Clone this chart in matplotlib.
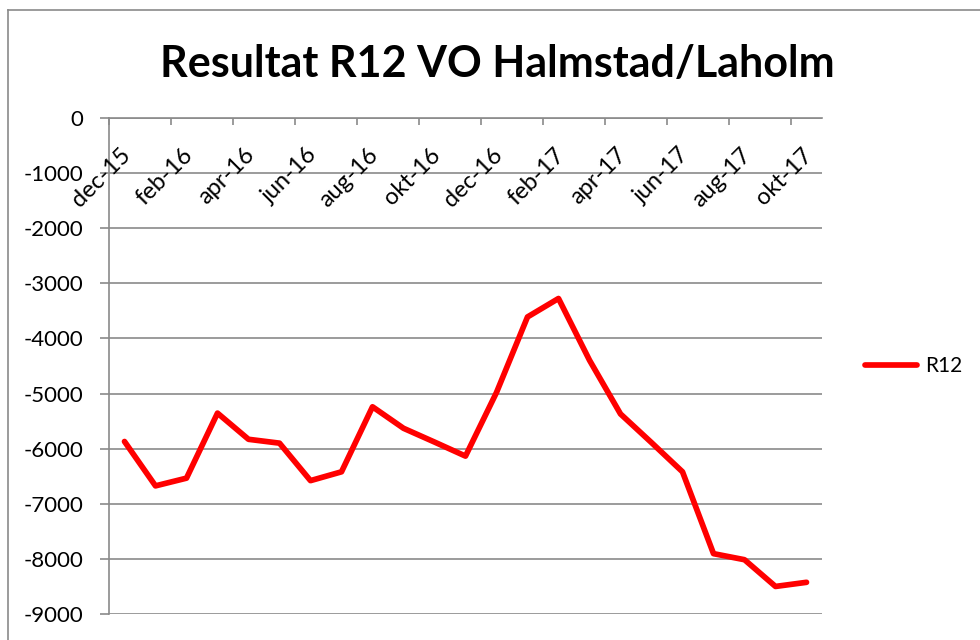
import matplotlib.pyplot as plt
from matplotlib.lines import Line2D

# R12 result per month, dec-15 .. okt-17
months = ['dec-15', 'jan-16', 'feb-16', 'mar-16', 'apr-16', 'maj-16', 'jun-16',
          'jul-16', 'aug-16', 'sep-16', 'okt-16', 'nov-16', 'dec-16', 'jan-17',
          'feb-17', 'mar-17', 'apr-17', 'maj-17', 'jun-17', 'jul-17', 'aug-17',
          'sep-17', 'okt-17']
r12 = [-5870, -6675, -6535, -5355, -5830, -5900, -6580, -6420, -5240, -5630,
       -5880, -6135, -4980, -3610, -3275, -4395, -5370, -5890, -6420, -7905,
       -8015, -8500, -8425]
yticks = [0, -1000, -2000, -3000, -4000, -5000, -6000, -7000, -8000, -9000]

plt.rcParams['font.family'] = ['Lato', 'DejaVu Sans']
gray = '#8a8a8a'

fig = plt.figure(figsize=(9.8, 6.4), dpi=100)
ax = fig.add_axes([109/980, 26/640, 713/980, 496/640])

x = list(range(len(months)))
ax.plot(x, r12, color='#ff0000', lw=4.1, solid_capstyle='round',
        solid_joinstyle='round', label='R12')

ax.set_xlim(-0.5, len(months) - 0.5)
ax.set_ylim(-9000, 0)
ax.set_yticks(yticks)
ax.set_yticklabels([str(v) for v in yticks], fontsize=16)
ax.yaxis.grid(True, color=gray, lw=1.2)
ax.set_axisbelow(True)
ax.tick_params(axis='y', direction='out', length=6.5, width=1.2, color=gray, pad=12)

# category axis sits on top (at 0), ticks between categories every 2 months
ax.xaxis.tick_top()
ax.set_xticks([i - 0.5 for i in range(0, len(months), 2)])
ax.set_xticklabels([])
ax.tick_params(axis='x', direction='in', length=5, width=1.2, color=gray)
for i in range(0, len(months), 2):
    ax.annotate(months[i], xy=(i, 0), xycoords='data', xytext=(2, -24),
                textcoords='offset points', rotation=45, rotation_mode='anchor',
                ha='right', va='center', fontsize=17)

for s in ['right', 'bottom']:
    ax.spines[s].set_visible(False)
for s in ['left', 'top']:
    ax.spines[s].set_color(gray)
    ax.spines[s].set_linewidth(1.2)

ax.legend(loc='center left', bbox_to_anchor=(1.06, 0.5), frameon=False,
          fontsize=15, handlelength=2.5, handletextpad=0.4, borderpad=0,
          borderaxespad=0)

fig.text(0.507, 1 - 77/640, 'Resultat R12 VO Halmstad/Laholm', ha='center',
         va='baseline', fontsize=31, fontweight='bold')

# outer chart frame (cropped on right and bottom)
fig.add_artist(Line2D([8/980, 8/980], [0, 1 - 10/640], transform=fig.transFigure,
                      color=gray, lw=1.2))
fig.add_artist(Line2D([8/980, 1], [1 - 10/640, 1 - 10/640], transform=fig.transFigure,
                      color=gray, lw=1.2))

fig.savefig('out.png', dpi=100)
